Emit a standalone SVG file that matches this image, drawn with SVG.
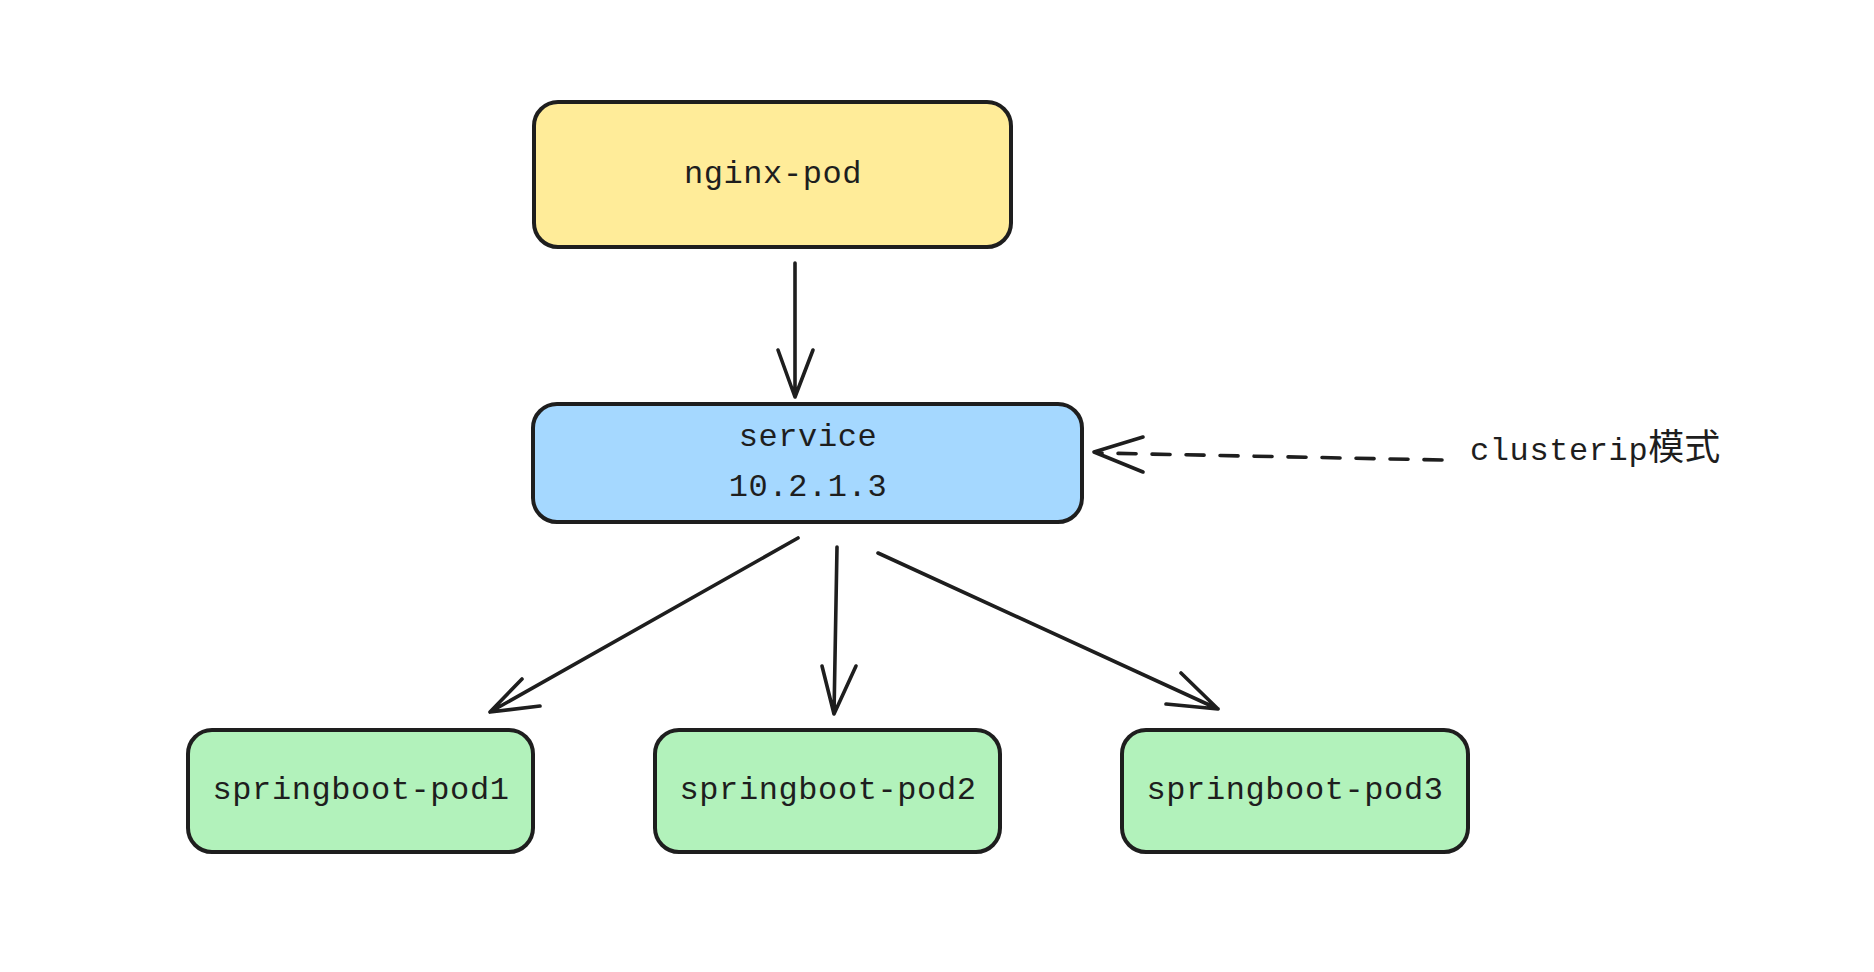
<svg xmlns="http://www.w3.org/2000/svg" width="1874" height="972" viewBox="0 0 1874 972">
<style>
.box{stroke:#1e1e1e;stroke-width:4;stroke-linejoin:round}
.lbl{font-family:"Liberation Mono","Noto Sans CJK SC",monospace;font-size:32px;fill:#1e1e1e;letter-spacing:0.6px;text-anchor:middle}
.edge{stroke:#1e1e1e;stroke-width:3.6;fill:none;stroke-linecap:round;stroke-linejoin:round}
</style>
<rect width="1874" height="972" fill="#ffffff"/>
<g id="nginx-pod">
<rect class="box" x="534" y="102" width="477" height="145" rx="24" fill="#ffec99"/>
<text class="lbl" x="773" y="183">nginx-pod</text>
</g>
<g id="service">
<rect class="box" x="533" y="404" width="549" height="118" rx="24" fill="#a5d8ff"/>
<text class="lbl" x="808" y="446">service</text>
<text class="lbl" x="808" y="496">10.2.1.3</text>
</g>
<g id="springboot-pod1">
<rect class="box" x="188" y="730" width="345" height="122" rx="24" fill="#b2f2bb"/>
<text class="lbl" x="361" y="799">springboot-pod1</text>
</g>
<g id="springboot-pod2">
<rect class="box" x="655" y="730" width="345" height="122" rx="24" fill="#b2f2bb"/>
<text class="lbl" x="828" y="799">springboot-pod2</text>
</g>
<g id="springboot-pod3">
<rect class="box" x="1122" y="730" width="346" height="122" rx="24" fill="#b2f2bb"/>
<text class="lbl" x="1295" y="799">springboot-pod3</text>
</g>
<g id="clusterip-label">
<text x="1470" y="460" style="font-family:'Liberation Mono','Noto Sans CJK SC',monospace;font-size:32px;fill:#1e1e1e;letter-spacing:0.6px">clusterip<tspan style="font-family:'Noto Sans CJK SC',sans-serif;font-size:36px;letter-spacing:0">模式</tspan></text>
</g>
<g id="connectors">
<path class="edge" d="M795 263 L795 397 M778 350 L795 397 L813 350"/>
<path class="edge" d="M798 538 L490 712 M522 679 L490 712 L540 706"/>
<path class="edge" d="M837 547 L834 714 M822 666 L834 714 L856 666"/>
<path class="edge" d="M878 553 L1218 709 M1181 673 L1218 709 L1166 704"/>
<path class="edge" d="M1442 460 L1098 453" stroke-dasharray="18 16"/>
<path class="edge" d="M1143 437 L1094 452 L1143 472"/>
</g>
</svg>
